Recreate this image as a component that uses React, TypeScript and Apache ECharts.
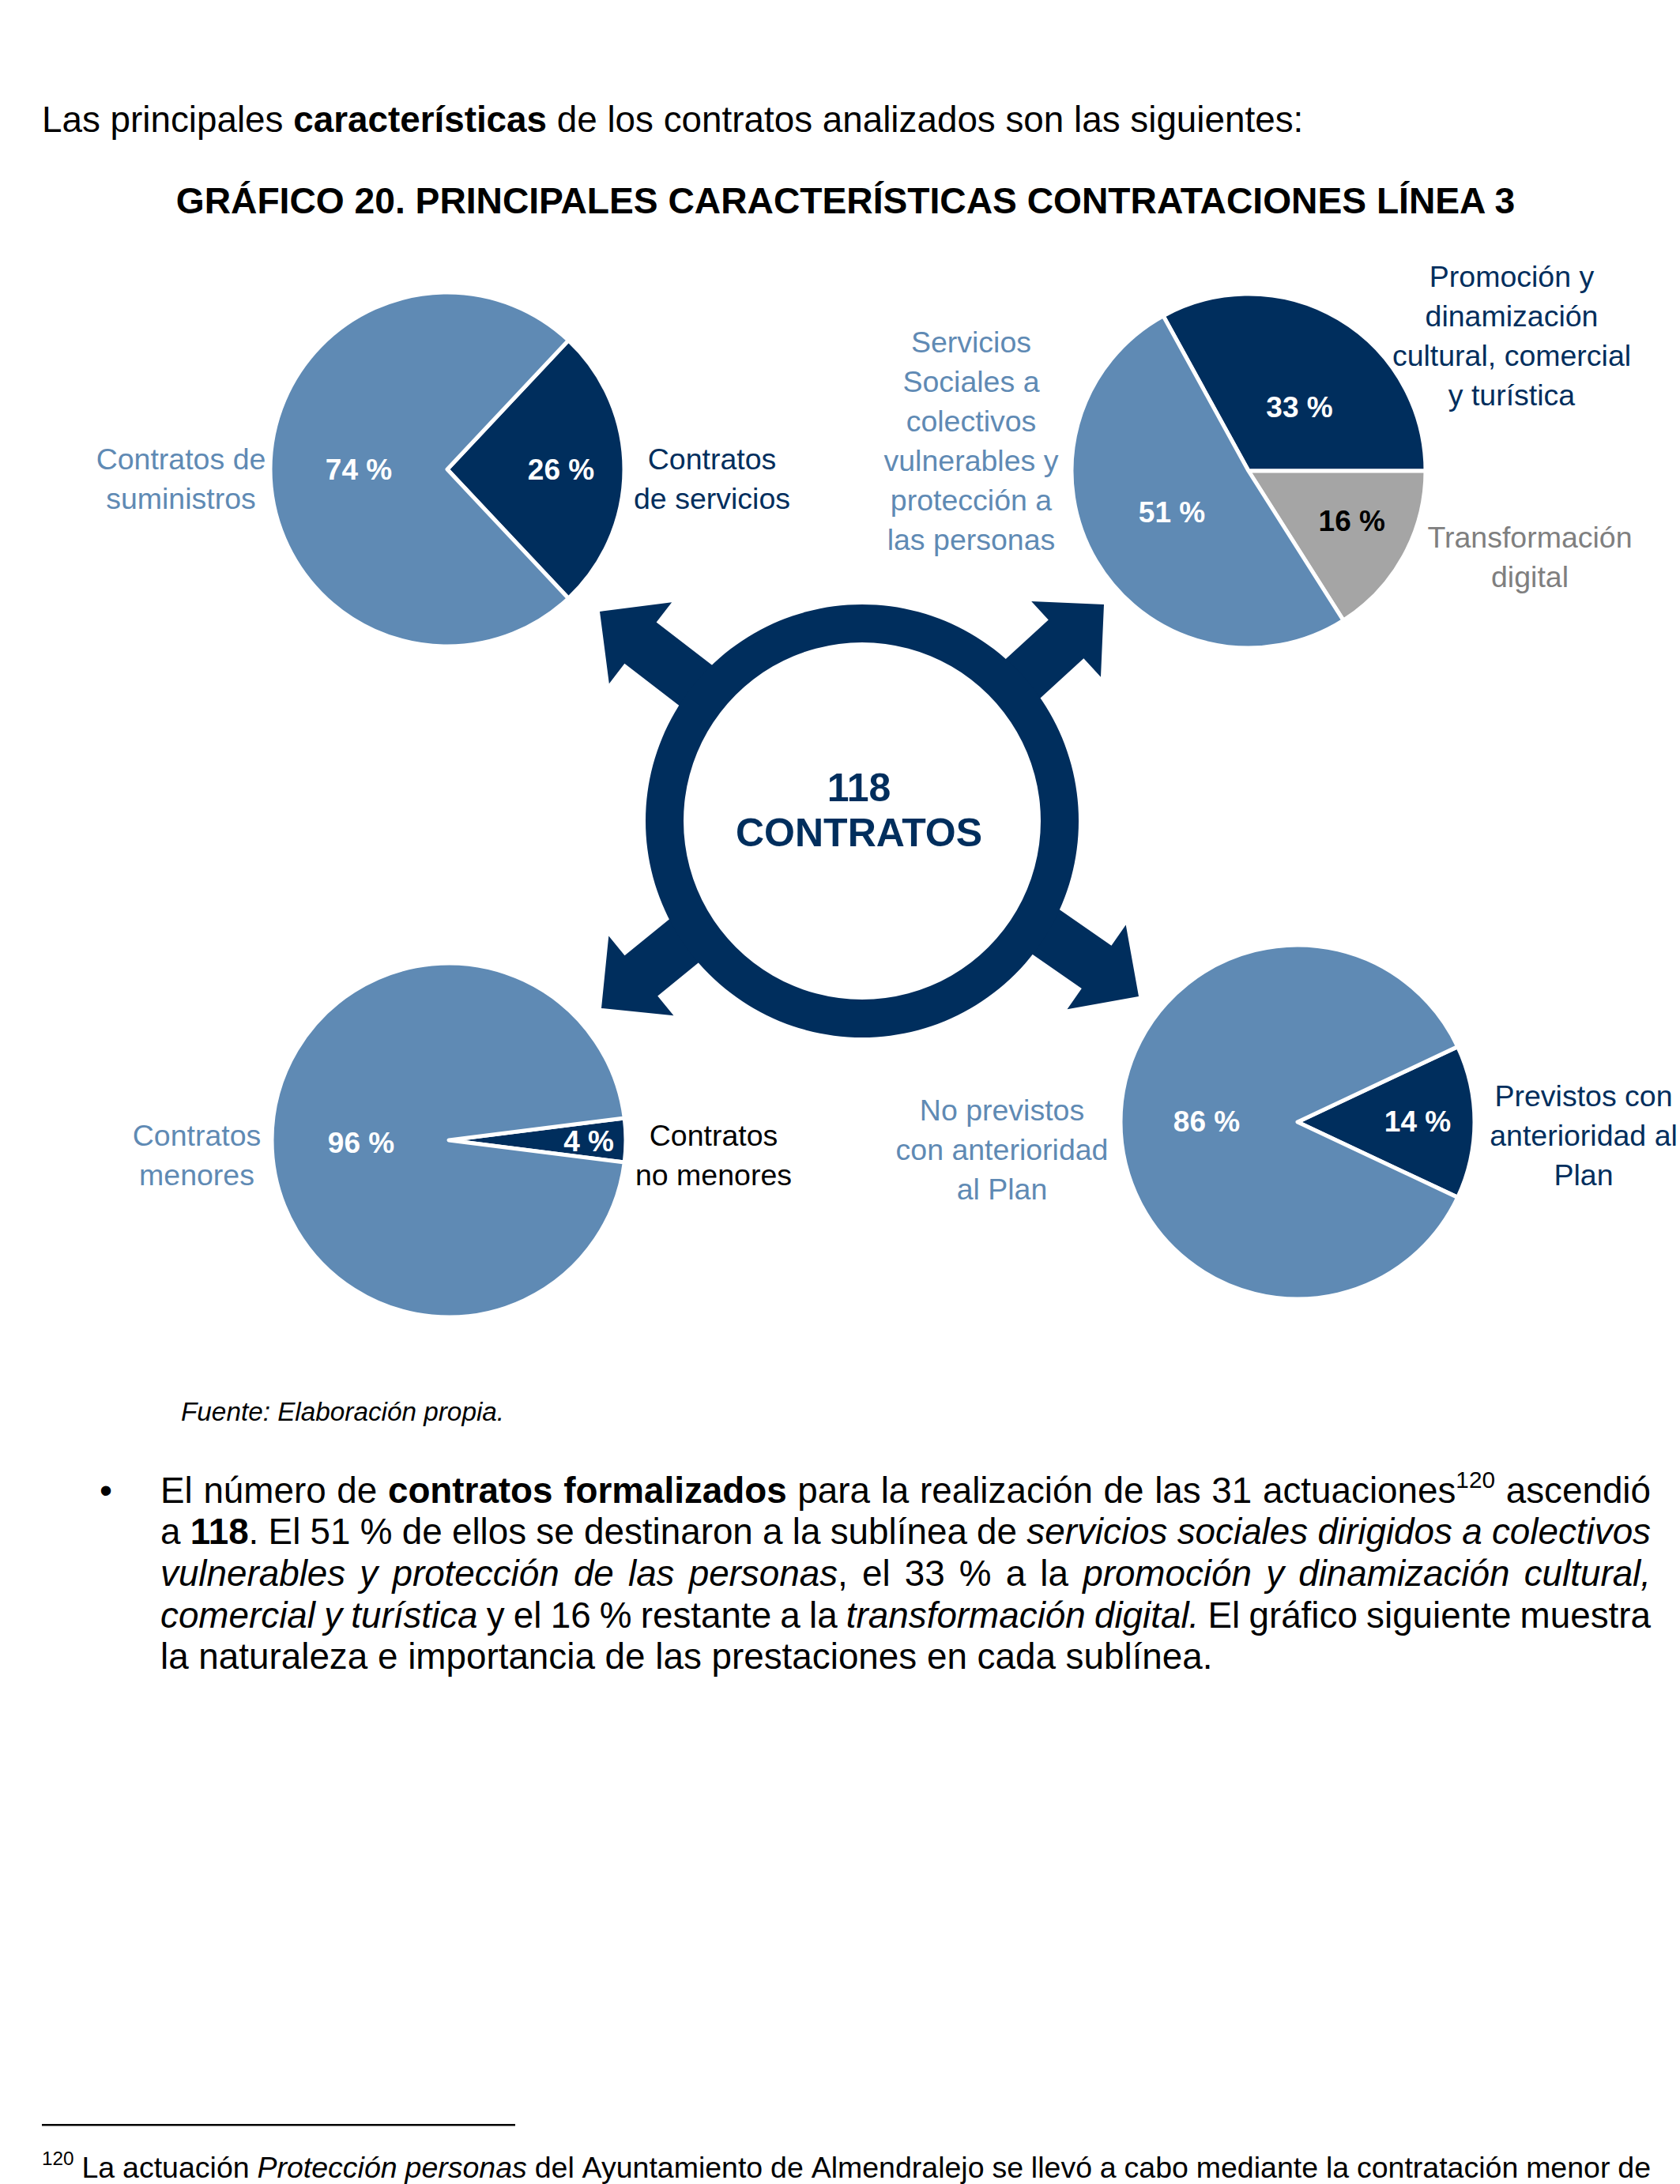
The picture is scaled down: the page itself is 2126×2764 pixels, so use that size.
import React, { useEffect, useRef } from 'react';
import * as echarts from 'echarts';

// ---------- Data ----------
const tipoNames = ['Contratos\nde servicios', 'Contratos de\nsuministros'];
const tipoValues = [26, 74];

const sublineaNames = [
  'Promoción y\ndinamización\ncultural, comercial\ny turística',
  'Transformación\ndigital',
  'Servicios\nSociales a\ncolectivos\nvulnerables y\nprotección a\nlas personas',
];
const sublineaValues = [33, 16, 51];

const menorNames = ['Contratos\nno menores', 'Contratos\nmenores'];
const menorValues = [4, 96];

const previstoNames = ['Previstos con\nanterioridad al\nPlan', 'No previstos\ncon anterioridad\nal Plan'];
const previstoValues = [14, 86];

const totalContratos = 118;

// ---------- Styles ----------
const NAVY = '#002E5D';
const LIGHT = '#5F8AB4';
const GRAY = '#A5A5A5';
const GRAY_TEXT = '#7F7F7F';
const FAMILY = '"Liberation Sans", Arial, sans-serif';

type Run = { t: string; b?: boolean; i?: boolean; sup?: boolean };

let mctx: CanvasRenderingContext2D | null = null;
function measure(text: string, size: number, bold?: boolean, italic?: boolean) {
  if (!mctx) mctx = document.createElement('canvas').getContext('2d');
  mctx!.font = `${italic ? 'italic ' : ''}${bold ? 'bold ' : ''}${size}px ${FAMILY}`;
  return mctx!.measureText(text).width;
}

function lineEls(runs: Run[], x0: number, x1: number, y: number, size: number, color: string, justify: boolean) {
  const words: Run[][] = [];
  let cur: Run[] = [];
  runs.forEach((r) => {
    const parts = r.t.split(' ');
    parts.forEach((p, k) => {
      if (k > 0) {
        if (cur.length) words.push(cur);
        cur = [];
      }
      if (p.length) cur.push({ ...r, t: p });
    });
  });
  if (cur.length) words.push(cur);
  const supSize = size * 0.65;
  const pw = (pc: Run) => measure(pc.t, pc.sup ? supSize : size, pc.b, pc.i);
  const widths = words.map((w) => w.reduce((s, pc) => s + pw(pc), 0));
  const total = widths.reduce((a, b) => a + b, 0);
  const space = measure(' ', size);
  const gap = justify && words.length > 1 ? (x1 - x0 - total) / (words.length - 1) : space;
  const els: any[] = [];
  let x = x0;
  words.forEach((w, wi) => {
    let px = x;
    w.forEach((pc) => {
      const fs = pc.sup ? supSize : size;
      els.push({
        type: 'text',
        silent: true,
        x: px,
        y: pc.sup ? y - size * 0.3 : y,
        style: {
          text: pc.t,
          fill: color,
          fontSize: fs,
          fontFamily: FAMILY,
          fontWeight: pc.b ? 'bold' : 'normal',
          fontStyle: pc.i ? 'italic' : 'normal',
          align: 'left',
          textAlign: 'left',
          verticalAlign: 'middle',
          textVerticalAlign: 'middle',
        },
      });
      px += pw(pc);
    });
    x += widths[wi] + gap;
  });
  return els;
}

function textEl(text: string, x: number, y: number, size: number, color: string, opts: any = {}) {
  return {
    type: 'text',
    silent: true,
    x,
    y,
    style: {
      text,
      fill: color,
      fontSize: size,
      fontFamily: FAMILY,
      fontWeight: opts.bold ? 'bold' : 'normal',
      fontStyle: opts.italic ? 'italic' : 'normal',
      lineHeight: opts.lineHeight || size * 1.2,
      align: opts.align || 'center',
      textAlign: opts.align || 'center',
      verticalAlign: 'middle',
      textVerticalAlign: 'middle',
    },
  };
}

// pies layout
const pies = [
  {
    names: tipoNames, values: tipoValues, center: [566, 594],
    colors: [NAVY, LIGHT], labelColors: ['#fff', '#fff'],
    labelOffsets: [[29, 0], [3, 0]],
    namePos: [[901, 606], [229, 606]], nameColors: [NAVY, LIGHT],
  },
  {
    names: sublineaNames, values: sublineaValues, center: [1580, 596],
    colors: [NAVY, GRAY, LIGHT], labelColors: ['#fff', '#000', '#fff'],
    labelOffsets: [[6, 18], [30, 8], [2, -6]],
    namePos: [[1913, 425], [1936, 705], [1229, 558]], nameColors: [NAVY, GRAY_TEXT, LIGHT],
  },
  {
    names: menorNames, values: menorValues, center: [568, 1443],
    colors: [NAVY, LIGHT], labelColors: ['#fff', '#fff'],
    labelOffsets: [[62, 1], [4, 3]],
    namePos: [[903, 1462], [249, 1462]], nameColors: ['#000', LIGHT],
  },
  {
    names: previstoNames, values: previstoValues, center: [1642, 1420],
    colors: [NAVY, LIGHT], labelColors: ['#fff', '#fff'],
    labelOffsets: [[37, -1], [0, -1]],
    namePos: [[2004, 1437], [1268, 1455]], nameColors: [NAVY, LIGHT],
  },
];

const arrows = [
  { tip: [759, 774], angle: 217.6 },
  { tip: [1397, 765], angle: -42.5 },
  { tip: [761, 1276], angle: 140.8 },
  { tip: [1441, 1261], angle: 34.8 },
];

function arrowPoints(tip: number[], angleDeg: number) {
  const headLen = 65, headHalf = 65, shaftHalf = 33, shaftLen = 100;
  const a = (angleDeg * Math.PI) / 180;
  const ux = Math.cos(a), uy = Math.sin(a);
  const nx = -uy, ny = ux;
  const bx = tip[0] - ux * headLen, by = tip[1] - uy * headLen;
  const ex = bx - ux * shaftLen, ey = by - uy * shaftLen;
  return [
    [tip[0], tip[1]],
    [bx + nx * headHalf, by + ny * headHalf],
    [bx + nx * shaftHalf, by + ny * shaftHalf],
    [ex + nx * shaftHalf, ey + ny * shaftHalf],
    [ex - nx * shaftHalf, ey - ny * shaftHalf],
    [bx - nx * shaftHalf, by - ny * shaftHalf],
    [bx - nx * headHalf, by - ny * headHalf],
  ];
}

const introRuns: Run[] = [
  { t: 'Las principales ' },
  { t: 'características', b: true },
  { t: ' de los contratos analizados son las siguientes:' },
];
const titleText = 'GRÁFICO 20. PRINCIPALES CARACTERÍSTICAS CONTRATACIONES LÍNEA 3';
const sourceText = 'Fuente: Elaboración propia.';

const paraLines: Run[][] = [
  [
    { t: 'El número de ' },
    { t: 'contratos formalizados', b: true },
    { t: ' para la realización de las 31 actuaciones' },
    { t: '120', sup: true },
    { t: ' ascendió' },
  ],
  [
    { t: 'a ' },
    { t: String(totalContratos), b: true },
    { t: '. El 51 % de ellos se destinaron a la sublínea de ' },
    { t: 'servicios sociales dirigidos a colectivos', i: true },
  ],
  [
    { t: 'vulnerables y protección de las personas', i: true },
    { t: ', el 33 % a la ' },
    { t: 'promoción y dinamización cultural,', i: true },
  ],
  [
    { t: 'comercial y turística', i: true },
    { t: ' y el 16 % restante a la ' },
    { t: 'transformación digital.', i: true },
    { t: ' El gráfico siguiente muestra' },
  ],
  [{ t: 'la naturaleza e importancia de las prestaciones en cada sublínea.' }],
];

const footRuns: Run[] = [
  { t: '120', sup: true },
  { t: ' La actuación ' },
  { t: 'Protección personas', i: true },
  { t: ' del Ayuntamiento de Almendralejo se llevó a cabo mediante la contratación menor de' },
];

function buildOption() {
  const BODY = 45.8;
  const graphics: any[] = [];

  graphics.push(...lineEls(introRuns, 53, 2089, 151, BODY, '#000', false));
  graphics.push(textEl(titleText, 1070, 254, 46.2, '#000', { bold: true }));

  // arrows + ring
  arrows.forEach((ar) => {
    graphics.push({ type: 'polygon', silent: true, shape: { points: arrowPoints(ar.tip, ar.angle) }, style: { fill: NAVY } });
  });
  graphics.push({ type: 'ring', silent: true, shape: { cx: 1091, cy: 1039, r: 274, r0: 226 }, style: { fill: NAVY } });
  graphics.push(
    textEl(`${totalContratos}\nCONTRATOS`, 1087, 1025, 50, NAVY, { bold: true, lineHeight: 57 })
  );

  // category name labels
  pies.forEach((p) => {
    p.names.forEach((n, i) => {
      graphics.push(textEl(n, p.namePos[i][0], p.namePos[i][1], 37.5, p.nameColors[i], { lineHeight: 50 }));
    });
  });

  graphics.push(textEl(sourceText, 229, 1786, 33.3, '#000', { italic: true, align: 'left' }));

  // paragraph
  graphics.push(textEl('•', 134, 1886, BODY, '#000'));
  paraLines.forEach((ln, i) => {
    graphics.push(...lineEls(ln, 203, 2089, 1886 + i * 52.7, BODY, '#000', i < paraLines.length - 1));
  });

  // footnote
  graphics.push({ type: 'rect', silent: true, shape: { x: 53, y: 2688, width: 599, height: 2.5 }, style: { fill: '#000' } });
  graphics.push(...lineEls(footRuns, 53, 2089, 2743, 37.5, '#000', true));

  const series = pies.map((p) => {
    const total = p.values.reduce((a, b) => a + b, 0);
    const startAngle = p.names.length === 3 ? (p.values[0] / total) * 360 : ((p.values[0] / total) * 360) / 2;
    return {
      type: 'pie',
      center: p.center,
      radius: 224,
      startAngle,
      clockwise: true,
      silent: true,
      avoidLabelOverlap: false,
      emphasis: { disabled: true },
      itemStyle: { borderColor: '#fff', borderWidth: 5 },
      labelLine: { show: false },
      label: {
        show: true,
        position: 'inside',
        formatter: (params: any) => `${params.value} %`,
        fontFamily: FAMILY,
        fontSize: 37,
        fontWeight: 'bold',
      },
      labelLayout: (params: any) => ({
        dx: p.labelOffsets[params.dataIndex][0],
        dy: p.labelOffsets[params.dataIndex][1],
      }),
      data: p.names.map((n, i) => ({
        name: n,
        value: p.values[i],
        itemStyle: { color: p.colors[i] },
        label: { color: p.labelColors[i] },
      })),
    };
  });

  return {
    animation: false,
    backgroundColor: '#ffffff',
    series,
    graphic: { elements: graphics },
  };
}

export default function App() {
  const ref = useRef<HTMLDivElement>(null);
  useEffect(() => {
    if (!ref.current) return;
    const chart = echarts.init(ref.current, null, { renderer: 'svg', width: 2126, height: 2764 });
    chart.setOption(buildOption() as any);
    return () => chart.dispose();
  }, []);
  return (
    <div
      ref={ref}
      style={{ position: 'absolute', left: 0, top: 0, width: 2126, height: 2764, background: '#fff' }}
    />
  );
}
